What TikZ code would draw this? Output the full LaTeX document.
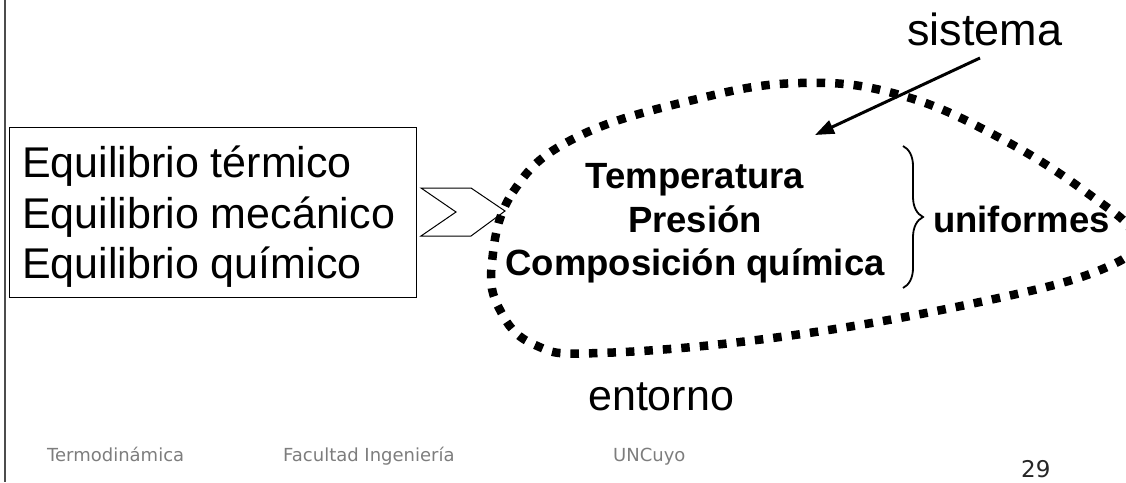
\documentclass[tikz,border=0pt]{standalone}
\usepackage{fontspec}
\setmainfont{Liberation Sans}
\newfontfamily\footfont{DejaVu Sans}
\usetikzlibrary{arrows.meta,decorations.pathreplacing}
\definecolor{footgray}{RGB}{125,125,125}
\begin{document}
\begin{tikzpicture}[x=1pt,y=-1pt]
    \useasboundingbox (0,0) rectangle (1126,482);
    \draw[line width=2pt,black!70] (5,0)--(5,482);
    % caja de equilibrios
    \draw[line width=1pt] (9.5,127) rectangle (416,297);
    \node[anchor=base west,inner sep=0,font=\fontsize{43}{43}\selectfont] at (22,177) (eq1) {Equilibrio térmico};
    \node[anchor=base west,inner sep=0,font=\fontsize{43}{43}\selectfont] at (22,228) (eq2) {Equilibrio mecánico};
    \node[anchor=base west,inner sep=0,font=\fontsize{43}{43}\selectfont] at (22,278) (eq3) {Equilibrio químico};
    \draw[line width=1pt] (421,188)--(471,188)--(505,211)--(471,236)--(421,236)--(456,212)--cycle;
    % sistema
    \draw[line width=8.5pt,dash pattern=on 8.5pt off 10pt] plot[smooth cycle,tension=0.7] coordinates {(492,262) (513,192) (575,138) (693,100) (800,83) (900,95) (1000,138) (1090,195) (1133,236) (1105,268) (980,302) (780,337) (600,353) (535,345) (500,310)};
    \node[anchor=base,inner sep=0,font=\bfseries\fontsize{36.5}{36}\selectfont] at (695,188) (v1) {Temperatura};
    \node[anchor=base,inner sep=0,font=\bfseries\fontsize{36.5}{36}\selectfont] at (695,232) (v2) {Presión};
    \node[anchor=base,inner sep=0,font=\bfseries\fontsize{36.5}{36}\selectfont] at (695,275) (v3) {Composición química};
    \draw[line width=1.8pt,decorate,decoration={brace,amplitude=20pt}] (903,146)--(903,288);
    \node[anchor=base west,inner sep=0,font=\bfseries\fontsize{36.5}{36}\selectfont] at (933,232) (unif) {uniformes};
    \node[anchor=base west,inner sep=0,font=\fontsize{45}{45}\selectfont] at (907,45) (sis) {sistema};
    \coordinate (a1) at (980,58);
    \coordinate (a2) at (815,135);
    \draw[line width=3pt,-{Triangle[length=19pt,width=14pt]}] (a1)--(a2);
    \node[anchor=base west,inner sep=0,font=\fontsize{43}{43}\selectfont] at (588,410) (ent) {entorno};
    % pie
    \node[anchor=base west,inner sep=0,font=\footfont\fontsize{18}{18}\selectfont,text=footgray] at (47,461) (f1) {Termodinámica};
    \node[anchor=base west,inner sep=0,font=\footfont\fontsize{18}{18}\selectfont,text=footgray] at (283,461) (f2) {Facultad Ingeniería};
    \node[anchor=base west,inner sep=0,font=\footfont\fontsize{18}{18}\selectfont,text=footgray] at (613,461) (f3) {UNCuyo};
    \node[anchor=base west,inner sep=0,font=\footfont\fontsize{23}{23}\selectfont,text=black!85] at (1021,477) (pg) {29};
\end{tikzpicture}
\end{document}
